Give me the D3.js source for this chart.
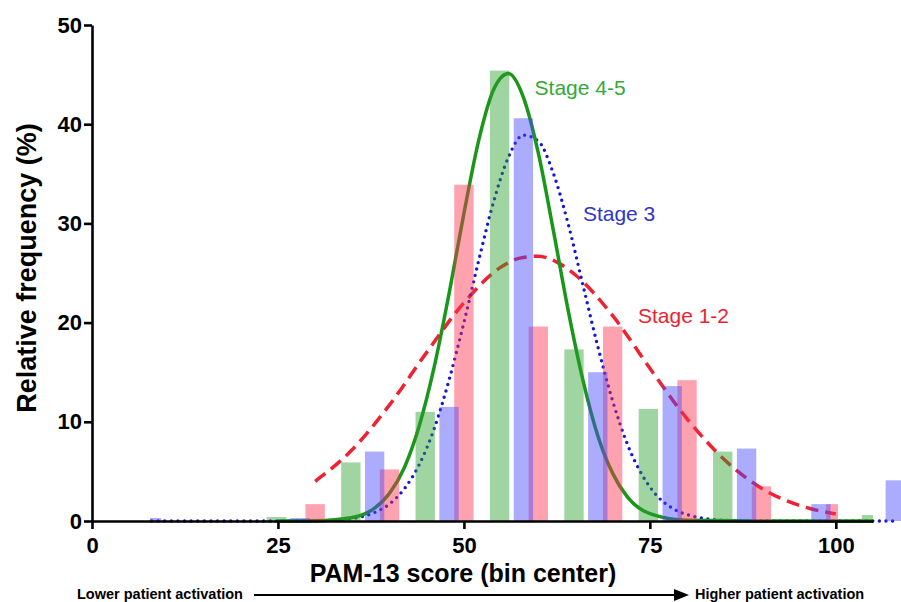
<!DOCTYPE html>
<html>
<head>
<meta charset="utf-8">
<script src="https://cdn.jsdelivr.net/npm/d3@7"></script>
<style>
  body { margin: 0; background: #fff; }
  svg text { font-family: "Liberation Sans", Arial, Helvetica, sans-serif; }
</style>
</head>
<body>
<div id="chart"></div>
<script>
// Histogram bins (bin centres) and relative frequencies (%) per stage
var redBins = [30, 40, 50, 60, 70, 80, 90, 100]
var redFreq = [1.7, 5.2, 33.9, 19.6, 19.6, 14.2, 3.5, 1.7]

var blueBins = [8, 18, 28, 38, 48, 58, 68, 78, 88, 98, 108]
var blueFreq = [0.3, 0, 0.3, 7.0, 11.5, 40.6, 15.0, 13.6, 7.3, 1.7, 4.1]

var greenBins = [24.8, 34.8, 44.8, 54.8, 64.8, 74.8, 84.8, 94.8, 104.8]
var greenFreq = [0.4, 5.9, 11.0, 45.4, 17.3, 11.3, 7.0, 0, 0.6]

// Gaussian fit curves
var redCurveX = [30, 35, 40, 45, 50, 55, 57.5, 60, 62.5, 65, 70, 75, 80, 85, 90, 95, 100]
var redCurveY = [4.0, 7.2, 11.7, 17.0, 22.0, 25.6, 26.5, 26.7, 26.1, 24.8, 20.7, 15.4, 10.3, 6.2, 3.3, 1.6, 0.7]

var blueCurveX = [8, 20, 30, 35, 38, 40, 42, 44, 46, 48, 50, 52, 54, 56, 58, 60, 62, 64, 66, 68, 70, 72, 74, 76, 78, 80, 85, 90, 107.8]
var blueCurveY = [0, 0, 0.02, 0.26, 0.86, 1.72, 3.26, 5.7, 9.3, 14.2, 20.0, 26.3, 32.2, 36.7, 38.9, 38.3, 35.1, 30.0, 23.8, 17.6, 12.1, 7.7, 4.6, 2.5, 1.3, 0.64, 0.07, 0, 0]

var greenCurveX = [25, 30, 35, 38, 40, 42, 44, 46, 48, 50, 52, 54, 56, 58, 60, 62, 64, 66, 68, 70, 72, 75, 80, 90, 105]
var greenCurveY = [0, 0.03, 0.36, 1.3, 2.8, 5.4, 9.6, 15.5, 22.9, 31.0, 38.4, 43.5, 45.1, 42.7, 37.1, 29.4, 21.3, 14.2, 8.6, 4.8, 2.4, 0.74, 0.07, 0, 0]

var xTicks = [0, 25, 50, 75, 100]
var yTicks = [0, 10, 20, 30, 40, 50]

var width = 901
var height = 602

var svg = d3.select('#chart')
.append('svg')
.attr('width', width)
.attr('height', height)

var x = d3.scaleLinear().domain([0, 105]).range([92, 873])
var y = d3.scaleLinear().domain([0, 50]).range([521, 25])

// series: colours, bar clip extents (in score units), curve style
var series = [
    {name: 'red', bins: redBins, freq: redFreq, cx: redCurveX, cy: redCurveY,
     bar: '#ff3050', line: '#ee2233', dash: '13 7', cap: 'butt', lw: 3.5, clip: [0, 100.3]},
    {name: 'blue', bins: blueBins, freq: blueFreq, cx: blueCurveX, cy: blueCurveY,
     bar: '#4848ff', line: '#1414dd', dash: '0 6.6', cap: 'round', lw: 3.4, clip: [7.8, 110]},
    {name: 'green', bins: greenBins, freq: greenFreq, cx: greenCurveX, cy: greenCurveY,
     bar: '#2ca02c', line: '#1a961a', dash: null, cap: 'butt', lw: 3.5, clip: [0, 105]}
]

var barW = 2.6 // bar width in score units

var line = d3.line()
.x(function(d){ return x(d[0]) })
.y(function(d){ return y(d[1]) })
.curve(d3.curveMonotoneX)

// Axes
var yAxis = svg.append('g')
.attr('transform', 'translate(92,0)')
.call(d3.axisLeft(y).tickValues(yTicks).tickSize(8).tickSizeOuter(0).tickPadding(2))

var xAxis = svg.append('g')
.attr('transform', 'translate(0,521)')
.call(d3.axisBottom(x).tickValues(xTicks).tickSize(8).tickSizeOuter(0).tickPadding(8))

svg.selectAll('.domain, .tick line')
.attr('stroke', '#000')
.attr('stroke-width', 2.6)

svg.selectAll('.tick text')
.attr('fill', '#000')
.style('font-size', '22px')
.style('font-weight', 'bold')

// Fit curves (drawn under the translucent bars)
series.forEach(function(s){
    var pts = s.cx.map(function(v, i){ return [v, s.cy[i]] })
    svg.append('path')
    .datum(pts)
    .attr('d', line)
    .attr('fill', 'none')
    .attr('stroke', s.line)
    .attr('stroke-width', s.lw)
    .attr('stroke-linecap', s.cap)
    .attr('stroke-dasharray', s.dash)
})

// Bars, each series clipped to its own range
var defs = svg.append('defs')
series.forEach(function(s){
    defs.append('clipPath')
    .attr('id', 'clip-' + s.name)
    .append('rect')
    .attr('x', x(s.clip[0]))
    .attr('y', 0)
    .attr('width', x(s.clip[1]) - x(s.clip[0]))
    .attr('height', height)

    svg.append('g')
    .attr('clip-path', 'url(#clip-' + s.name + ')')
    .selectAll('rect')
    .data(s.bins.map(function(b, i){ return {b: b, v: s.freq[i]} }))
    .enter()
    .append('rect')
    .attr('x', function(d){ return x(d.b - barW / 2) })
    .attr('width', x(barW) - x(0))
    .attr('y', function(d){ return y(d.v) })
    .attr('height', function(d){ return y(0) - y(d.v) })
    .attr('fill', s.bar)
    .attr('fill-opacity', 0.45)
})

// keep axis line on top
svg.node().appendChild(xAxis.node())

// Curve labels
var labels = [
    {text: 'Stage 4-5', x: 59.5, y: 42.9, color: '#36a836'},
    {text: 'Stage 3', x: 66.0, y: 30.2, color: '#3434c8'},
    {text: 'Stage 1-2', x: 73.4, y: 20.0, color: '#ee2233'}
]
svg.selectAll('.lab')
.data(labels)
.enter()
.append('text')
.attr('x', function(d){ return x(d.x) })
.attr('y', function(d){ return y(d.y) })
.attr('fill', function(d){ return d.color })
.style('font-size', '21px')
.text(function(d){ return d.text })

// Axis titles
svg.append('text')
.attr('x', 463)
.attr('y', 582)
.attr('text-anchor', 'middle')
.style('font-size', '25px')
.style('font-weight', 'bold')
.text('PAM-13 score (bin center)')

svg.append('text')
.attr('transform', 'translate(36,268) rotate(-90)')
.attr('text-anchor', 'middle')
.style('font-size', '27px')
.style('font-weight', 'bold')
.text('Relative frequency (%)')

// Activation arrow underneath
svg.append('text')
.attr('x', 77)
.attr('y', 599)
.style('font-size', '14.5px')
.style('font-weight', 'bold')
.text('Lower patient activation')

svg.append('line')
.attr('x1', 254).attr('x2', 676)
.attr('y1', 595).attr('y2', 595)
.attr('stroke', '#000')
.attr('stroke-width', 2)

svg.append('path')
.attr('d', 'M674,589 L689,595 L674,601 Z')
.attr('fill', '#000')

svg.append('text')
.attr('x', 695)
.attr('y', 599)
.style('font-size', '14.5px')
.style('font-weight', 'bold')
.text('Higher patient activation')
</script>
</body>
</html>
